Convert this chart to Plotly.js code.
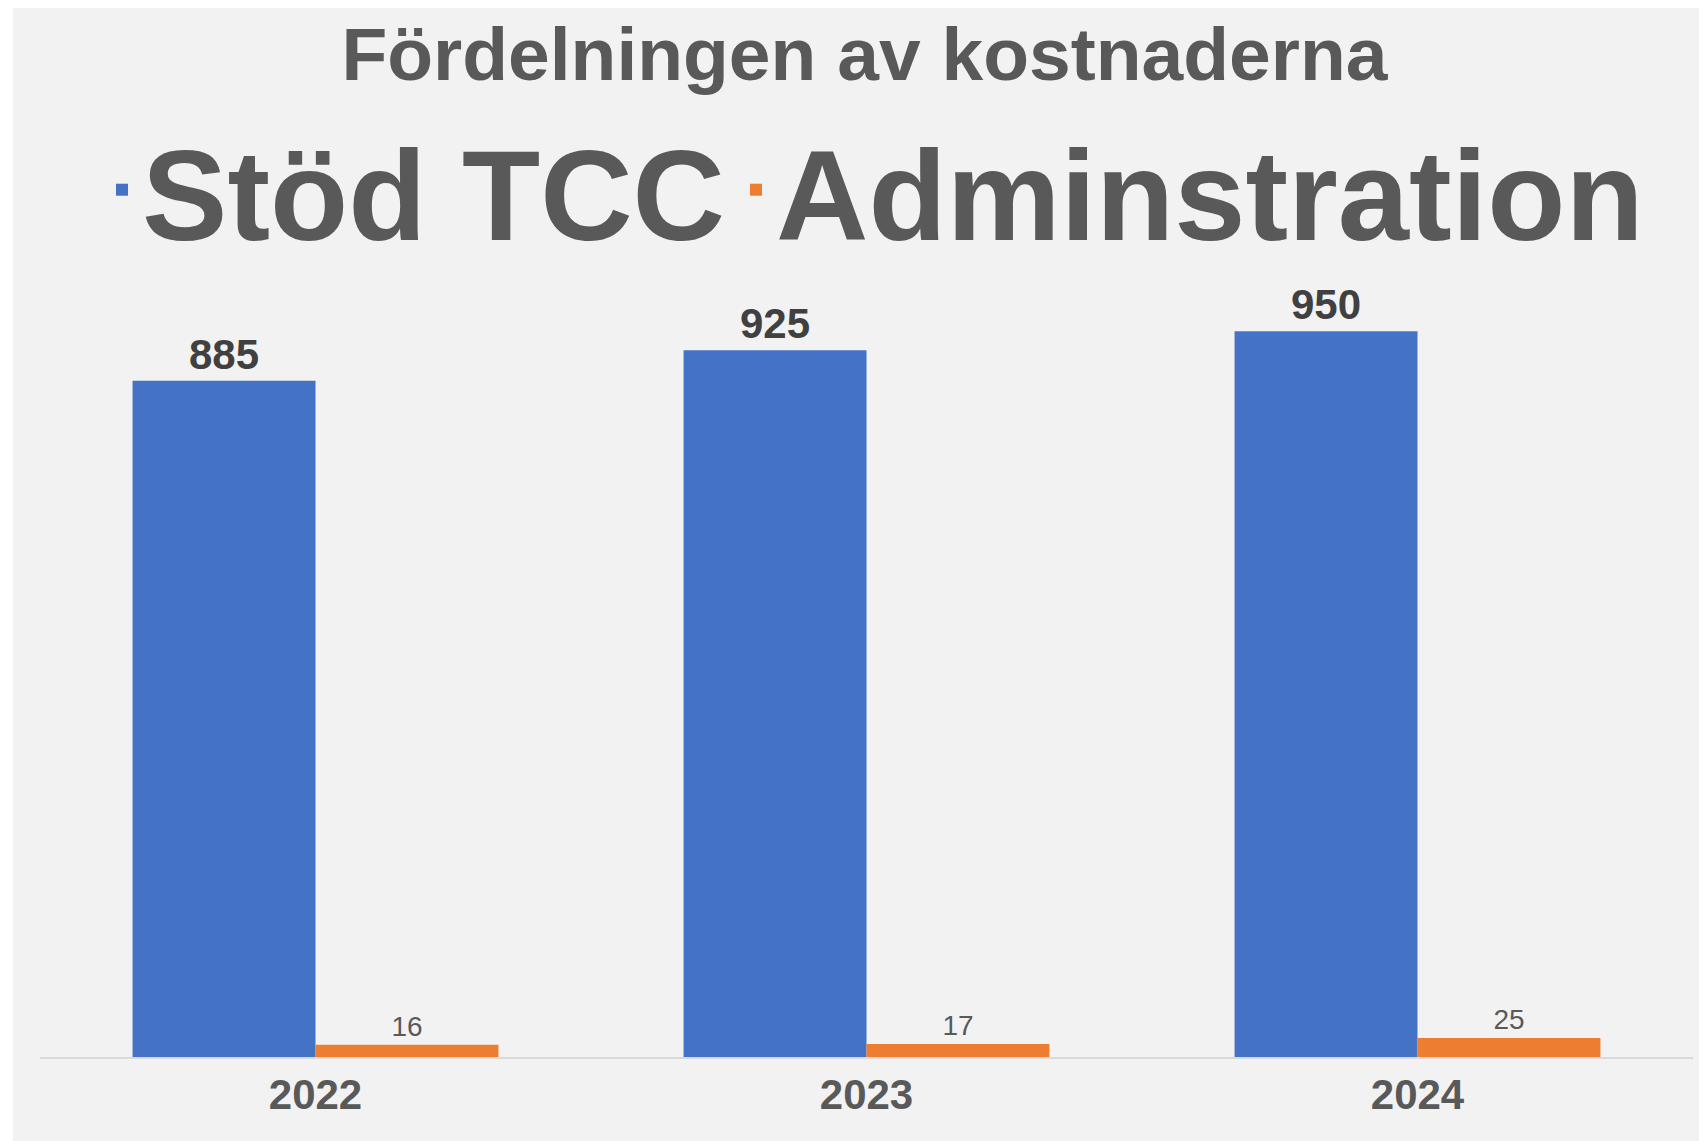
<!DOCTYPE html>
<html>
<head>
<meta charset="utf-8">
<script src="https://cdn.plot.ly/plotly-3.0.1.min.js"></script>
<style>
  body { margin: 0; background: #ffffff; }
  #chart { position: absolute; left: 13px; top: 8px; width: 1686px; height: 1133px; }
</style>
</head>
<body>
<div id="chart"></div>
<script>
// data
var years = ['2022', '2023', '2024'];
var stodTcc = [885, 925, 950];
var admin = [16, 17, 25];
var seriesNames = ['Stöd TCC', 'Adminstration'];

var fontFam = 'Liberation Sans, Arial, sans-serif';
var legFont = {family: fontFam, size: 128, color: '#595959', weight: 'bold'};

var trace1 = {
  x: years,
  y: stodTcc,
  name: seriesNames[0],
  type: 'bar',
  legend: 'legend',
  marker: {color: '#4472C4'},
  text: stodTcc.map(String),
  textposition: 'outside',
  constraintext: 'none',
  cliponaxis: false,
  textfont: {family: fontFam, size: 42, color: '#404040', weight: 'bold'},
  hoverinfo: 'x+y'
};
var trace2 = {
  x: years,
  y: admin,
  name: seriesNames[1],
  type: 'bar',
  legend: 'legend2',
  marker: {color: '#ED7D31'},
  text: admin.map(String),
  textposition: 'outside',
  constraintext: 'none',
  cliponaxis: false,
  textfont: {family: fontFam, size: 28, color: '#595959'},
  hoverinfo: 'x+y'
};

var layout = {
  width: 1686,
  height: 1133,
  paper_bgcolor: '#F2F2F2',
  plot_bgcolor: '#F2F2F2',
  font: {family: fontFam, color: '#595959'},
  title: {
    text: 'Fördelningen av kostnaderna',
    font: {family: fontFam, size: 75, color: '#595959', weight: 'bold'},
    x: 0.505, xref: 'container', xanchor: 'center',
    y: 1 - 46 / 1133, yref: 'container', yanchor: 'middle'
  },
  showlegend: true,
  legend: {
    orientation: 'h',
    x: 89 / 1686, xref: 'container', xanchor: 'left',
    y: 1 - 182 / 1133, yref: 'container', yanchor: 'middle',
    font: legFont,
    bgcolor: 'rgba(0,0,0,0)'
  },
  legend2: {
    orientation: 'h',
    x: 723 / 1686, xref: 'container', xanchor: 'left',
    y: 1 - 182 / 1133, yref: 'container', yanchor: 'middle',
    font: legFont,
    bgcolor: 'rgba(0,0,0,0)'
  },
  barmode: 'group',
  bargap: 0.336,
  bargroupgap: 0,
  xaxis: {
    type: 'category',
    showgrid: false,
    zeroline: false,
    showline: true,
    linecolor: '#D9D9D9',
    linewidth: 1.5,
    ticks: '',
    tickfont: {family: fontFam, size: 42, color: '#595959', weight: 'bold'}
  },
  yaxis: {
    range: [0, 1000],
    visible: false,
    showgrid: false,
    zeroline: false
  },
  margin: {l: 27, r: 6, t: 285, b: 84, pad: 0}
};

Plotly.newPlot('chart', [trace1, trace2], layout, {displayModeBar: false});
</script>
</body>
</html>
